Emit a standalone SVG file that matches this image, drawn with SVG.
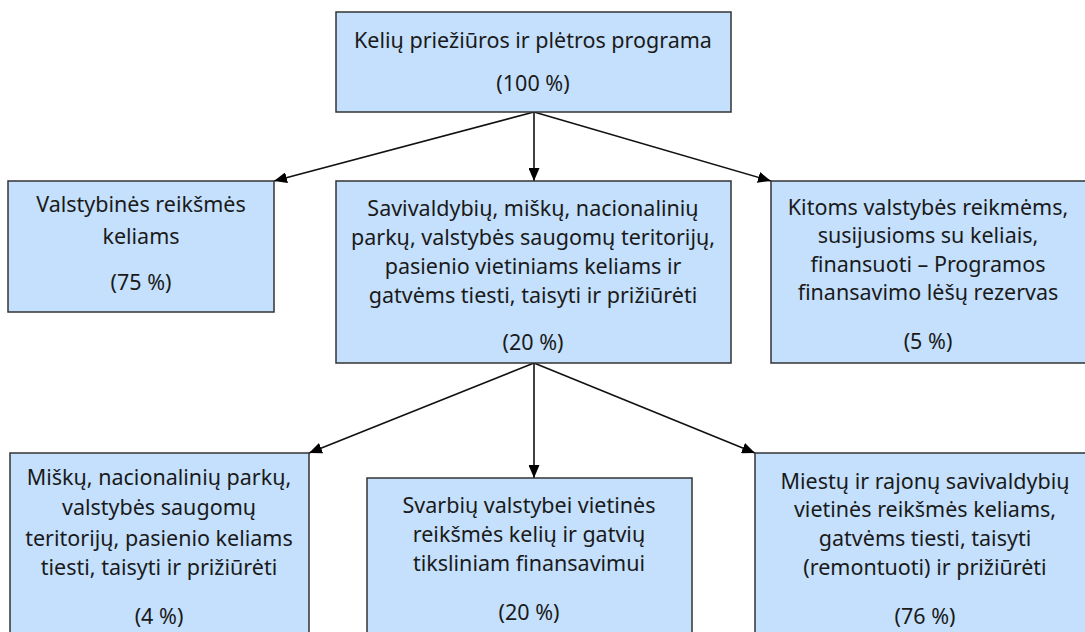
<svg xmlns="http://www.w3.org/2000/svg" width="1085" height="632" viewBox="0 0 1085 632">
<style>
.box{fill:#c4e0fd;stroke:#333;stroke-width:1.5}
text{font-family:"Noto Sans","Open Sans","DejaVu Sans",sans-serif;font-size:21.5px;fill:#1a1a1a;text-anchor:middle}
.c{stroke:#111;stroke-width:1.6;fill:none;marker-end:url(#ah)}
</style>
<defs>
<marker id="ah" viewBox="0 0 13 11" refX="13" refY="5.5" markerWidth="13" markerHeight="11" markerUnits="userSpaceOnUse" orient="auto">
<path d="M0,0 L13,5.5 L0,11 z" fill="#000"/>
</marker>
</defs>
<g id="connectors">
<line class="c" x1="534" y1="112" x2="534" y2="181"/>
<line class="c" x1="534" y1="112" x2="274" y2="181"/>
<line class="c" x1="534" y1="112" x2="771" y2="181"/>
<line class="c" x1="534" y1="363" x2="534" y2="478"/>
<line class="c" x1="534" y1="363" x2="309" y2="453"/>
<line class="c" x1="534" y1="363" x2="755" y2="453"/>
</g>
<g id="n-root">
<rect class="box" x="336" y="12" width="395" height="100"/>
<text x="533" y="48">Kelių priežiūros ir plėtros programa</text>
<text x="533" y="91">(100 %)</text>
</g>
<g id="n-valst">
<rect class="box" x="8" y="181" width="266" height="131"/>
<text x="141" y="212">Valstybinės reikšmės</text>
<text x="141" y="244">keliams</text>
<text x="141" y="290">(75 %)</text>
</g>
<g id="n-saviv">
<rect class="box" x="336" y="181" width="395" height="182"/>
<text x="533" y="216">Savivaldybių, miškų, nacionalinių</text>
<text x="533" y="245">parkų, valstybės saugomų teritorijų,</text>
<text x="533" y="274">pasienio vietiniams keliams ir</text>
<text x="533" y="303">gatvėms tiesti, taisyti ir prižiūrėti</text>
<text x="533" y="350">(20 %)</text>
</g>
<g id="n-kitoms">
<rect class="box" x="771" y="181" width="320" height="182"/>
<text x="928" y="215">Kitoms valstybės reikmėms,</text>
<text x="928" y="243">susijusioms su keliais,</text>
<text x="928" y="272">finansuoti – Programos</text>
<text x="928" y="300">finansavimo lėšų rezervas</text>
<text x="928" y="349">(5 %)</text>
</g>
<g id="n-misku">
<rect class="box" x="10" y="453" width="299" height="190"/>
<text x="159" y="485">Miškų, nacionalinių parkų,</text>
<text x="159" y="515">valstybės saugomų</text>
<text x="159" y="546">teritorijų, pasienio keliams</text>
<text x="159" y="575">tiesti, taisyti ir prižiūrėti</text>
<text x="159" y="624">(4 %)</text>
</g>
<g id="n-svarbiu">
<rect class="box" x="367" y="478" width="325" height="170"/>
<text x="529" y="513">Svarbių valstybei vietinės</text>
<text x="529" y="542">reikšmės kelių ir gatvių</text>
<text x="529" y="571">tiksliniam finansavimui</text>
<text x="529" y="620">(20 %)</text>
</g>
<g id="n-miestu">
<rect class="box" x="755" y="453" width="340" height="190"/>
<text x="925" y="489">Miestų ir rajonų savivaldybių</text>
<text x="925" y="517">vietinės reikšmės keliams,</text>
<text x="925" y="546">gatvėms tiesti, taisyti</text>
<text x="925" y="575">(remontuoti) ir prižiūrėti</text>
<text x="925" y="624">(76 %)</text>
</g>
</svg>
